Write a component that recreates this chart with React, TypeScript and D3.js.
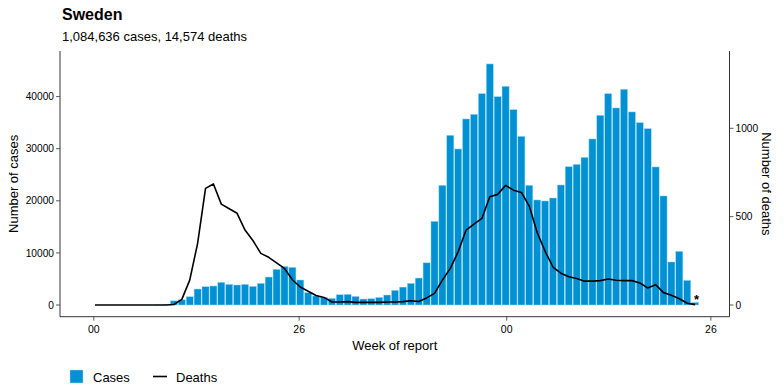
import * as d3 from "d3";

// weekly series, one value per ISO week starting with week 1 of 2020
const FIRST_WEEK = "2020-01-02";
const cases = [
  0, 0, 0, 0, 0, 0, 0, 0, 20, 150,
  800, 1000, 1600, 3070, 3520, 3650, 4350, 3970, 3840, 3970,
  3580, 4160, 5370, 6850, 7400, 7230, 4800, 2370, 1730, 1470,
  1280, 1980, 2050, 1660, 1150, 1220, 1470, 1920, 2820, 3440,
  4160, 5180, 8100, 16060, 22980, 32580, 29950, 35710, 36610, 40580,
  46270, 40000, 41980, 37500, 32380, 22980, 20160, 19970, 20540, 23040,
  26560, 27000, 28350, 31870, 36420, 40580, 37820, 41410, 37060, 35010,
  33860, 26500, 20930, 8260, 10300, 4740, 500,
];
const deaths = [
  0, 0, 0, 0, 0, 0, 0, 0, 0, 0,
  3, 32, 141, 349, 660, 685, 571, 545, 519, 424,
  365, 292, 270, 238, 207, 143, 102, 78, 54, 43,
  17, 17, 19, 15, 15, 15, 15, 17, 17, 19,
  24, 20, 40, 66, 141, 207, 302, 424, 458, 490,
  613, 626, 677, 650, 637, 560, 410, 305, 215, 180,
  160, 150, 135, 135, 138, 147, 140, 138, 138, 125,
  96, 115, 70, 55, 35, 10, 2,
];
const caseTicks = [0, 10000, 20000, 30000, 40000];
const deathTicks = [0, 500, 1000];
const dateTicks = ["2020-01-01", "2020-07-01", "2021-01-01", "2021-07-01"];

const W = 784;
const H = 392;
const M = { left: 60, right: 729.5, top: 51, bottom: 316.7 };
const FONT = "'Liberation Sans', Arial, Helvetica, sans-serif";
const BLUE = "#0091d4";
const DAY = 86400000;

export default function App() {
  const start = new Date(FIRST_WEEK + "T00:00:00Z").getTime();
  const weeks = cases.map((_, i) => new Date(start + i * 7 * DAY));

  const x = d3
    .scaleUtc()
    .domain([new Date(Date.UTC(2019, 11, 2)), new Date(Date.UTC(2021, 6, 17, 12))])
    .range([M.left, M.right]);
  const yC = d3.scaleLinear().domain([0, 10000]).range([305, 252.9]);
  const yD = d3.scaleLinear().domain([0, 1000]).range([305, 128.3]);

  const barW = x(new Date(start + 6.3 * DAY)) - x(new Date(start));
  const line = d3
    .line<number>()
    .x((_, i) => x(weeks[i]))
    .y((d) => yD(d));

  const last = weeks.length - 1;

  return (
    <svg
      width={W}
      height={H}
      style={{ position: "absolute", left: 0, top: 0, fontFamily: FONT }}
    >
      <rect width={W} height={H} fill="#fff" />
      <text x={62} y={20} fontSize={16} fontWeight="bold">
        Sweden
      </text>
      <text x={62} y={40.5} fontSize={13}>
        1,084,636 cases, 14,574 deaths
      </text>

      {cases.map((c, i) => (
        <rect
          key={i}
          x={x(weeks[i]) - barW / 2}
          y={yC(c)}
          width={barW}
          height={Math.max(0, yC(0) - yC(c))}
          fill={BLUE}
          stroke="#a9daf2"
          strokeWidth={0.5}
        />
      ))}
      <path d={line(deaths) ?? ""} fill="none" stroke="#000" strokeWidth={1.6} strokeLinejoin="round" />
      {/* last week is incomplete */}
      <text x={x(weeks[last]) + 1.5} y={yC(cases[last]) + 2} fontSize={13} fontWeight="bold" textAnchor="middle">
        *
      </text>

      {/* left axis */}
      <line x1={M.left} x2={M.left} y1={M.top} y2={M.bottom} stroke="#000" strokeWidth={0.8} />
      {caseTicks.map((t) => (
        <g key={t} transform={`translate(0,${yC(t)})`}>
          <line x1={M.left - 4} x2={M.left} stroke="#333" strokeWidth={0.8} />
          <text x={M.left - 6} y={3.6} fontSize={10.2} textAnchor="end" fill="#000">
            {t}
          </text>
        </g>
      ))}
      {/* right axis */}
      <line x1={M.right} x2={M.right} y1={M.top} y2={M.bottom} stroke="#000" strokeWidth={0.8} />
      {deathTicks.map((t) => (
        <g key={t} transform={`translate(0,${yD(t)})`}>
          <line x1={M.right} x2={M.right + 4} stroke="#333" strokeWidth={0.8} />
          <text x={M.right + 6} y={3.6} fontSize={10.2} fill="#000">
            {t}
          </text>
        </g>
      ))}
      {/* bottom axis */}
      <line x1={M.left} x2={M.right} y1={M.bottom} y2={M.bottom} stroke="#000" strokeWidth={0.8} />
      {dateTicks.map((t) => {
        const d = new Date(t + "T00:00:00Z");
        return (
          <g key={t} transform={`translate(${x(d)},${M.bottom})`}>
            <line y1={0} y2={4} stroke="#333" strokeWidth={0.8} />
            <text y={16} fontSize={10.5} textAnchor="middle">
              {d3.utcFormat("%W")(d)}
            </text>
          </g>
        );
      })}

      <text x={(M.left + M.right) / 2} y={350} fontSize={13} textAnchor="middle">
        Week of report
      </text>
      <text
        transform={`translate(18,${(M.top + M.bottom) / 2}) rotate(-90)`}
        fontSize={13}
        textAnchor="middle"
      >
        Number of cases
      </text>
      <text
        transform={`translate(762,${(M.top + M.bottom) / 2}) rotate(90)`}
        fontSize={13}
        textAnchor="middle"
      >
        Number of deaths
      </text>

      {/* legend */}
      <rect x={70} y={370} width={13} height={13} fill={BLUE} stroke="#a9daf2" strokeWidth={0.5} />
      <text x={93} y={381.5} fontSize={13}>
        Cases
      </text>
      <line x1={153} x2={167} y1={376.5} y2={376.5} stroke="#000" strokeWidth={1.6} />
      <text x={176} y={381.5} fontSize={13}>
        Deaths
      </text>
    </svg>
  );
}
